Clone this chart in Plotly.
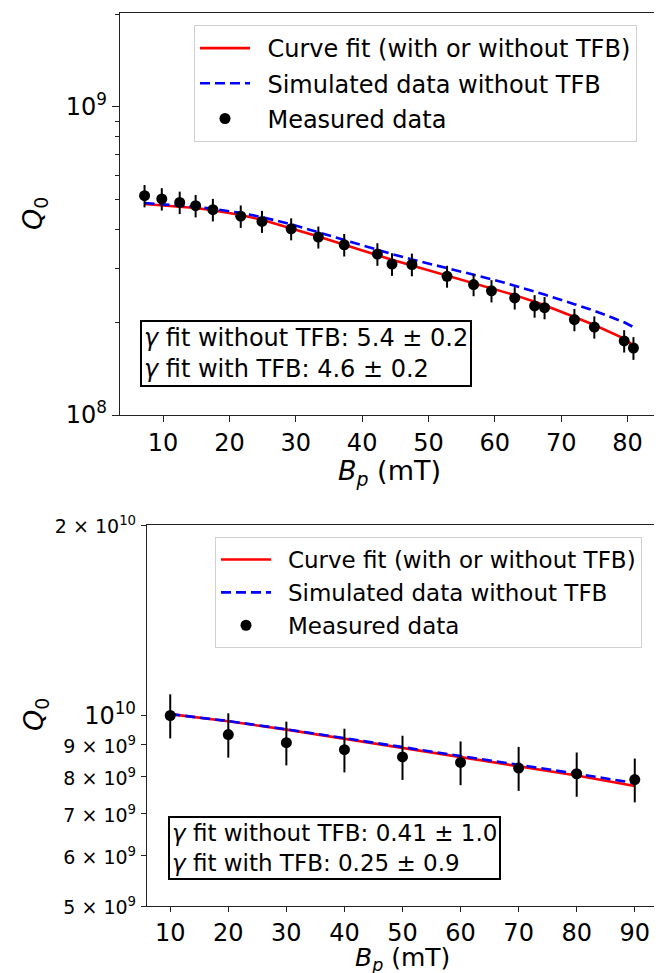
import math
import plotly.graph_objects as go

# ---------------- Top panel data ----------------
b_top = [7.2, 9.8, 12.5, 14.9, 17.5, 21.7, 24.9, 29.3, 33.4, 37.3, 42.3, 44.5,
         47.5, 52.8, 56.8, 59.5, 63.0, 66.0, 67.5, 72.0, 75.0, 79.5, 80.9]
q_top = [5.15e8, 5.03e8, 4.90e8, 4.78e8, 4.64e8, 4.42e8, 4.25e8, 4.02e8, 3.78e8,
         3.57e8, 3.33e8, 3.09e8, 3.08e8, 2.82e8, 2.65e8, 2.53e8, 2.40e8, 2.26e8,
         2.23e8, 2.04e8, 1.93e8, 1.74e8, 1.65e8]
err_top = [4.3e7, 4.2e7, 4.1e7, 4.0e7, 3.9e7, 3.7e7, 3.5e7, 3.3e7, 3.1e7, 3.0e7,
           2.8e7, 2.6e7, 2.6e7, 2.3e7, 2.2e7, 2.1e7, 2.0e7, 1.9e7, 1.85e7, 1.7e7,
           1.6e7, 1.45e7, 1.4e7]
fit_top = [4.84e8, 4.80e8, 4.75e8, 4.70e8, 4.62e8, 4.46e8, 4.30e8, 4.04e8, 3.80e8,
           3.57e8, 3.30e8, 3.19e8, 3.06e8, 2.84e8, 2.68e8, 2.58e8, 2.45e8, 2.33e8,
           2.27e8, 2.08e8, 1.96e8, 1.77e8, 1.68e8]
sim_top = [4.88e8, 4.84e8, 4.79e8, 4.74e8, 4.67e8, 4.53e8, 4.39e8, 4.16e8, 3.92e8,
           3.70e8, 3.44e8, 3.33e8, 3.20e8, 3.00e8, 2.85e8, 2.76e8, 2.63e8, 2.52e8,
           2.46e8, 2.29e8, 2.18e8, 2.00e8, 1.93e8]

# ---------------- Bottom panel data ----------------
b_bot = [10, 20, 30, 40, 50, 60, 70, 80, 90]
q_bot = [1.0e10, 9.33e9, 9.06e9, 8.83e9, 8.60e9, 8.43e9, 8.26e9, 8.09e9, 7.92e9]
err_bot = [8.0e8, 7.5e8, 7.2e8, 7.0e8, 6.9e8, 6.7e8, 6.6e8, 6.5e8, 6.3e8]
fit_bot = [1.005e10, 9.79e9, 9.50e9, 9.19e9, 8.88e9, 8.59e9, 8.31e9, 8.04e9, 7.74e9]
sim_bot = [1.005e10, 9.80e9, 9.51e9, 9.21e9, 8.91e9, 8.63e9, 8.36e9, 8.09e9, 7.82e9]

# tick labels
top_x_ticks = [10, 20, 30, 40, 50, 60, 70, 80]
top_y_ticks = [1e8, 1e9]
top_y_text = ["10<sup>8</sup>", "10<sup>9</sup>"]
top_y_minor = [2e8, 3e8, 4e8, 5e8, 6e8, 7e8, 8e8, 9e8, 2e9]
bot_x_ticks = [10, 20, 30, 40, 50, 60, 70, 80, 90]
bot_y_ticks = [5e9, 6e9, 7e9, 8e9, 9e9, 1e10, 2e10]
small = "<span style='font-size:19px'>%s</span>"
bot_y_text = [small % "5 × 10<sup>9</sup>", small % "6 × 10<sup>9</sup>",
              small % "7 × 10<sup>9</sup>", small % "8 × 10<sup>9</sup>",
              small % "9 × 10<sup>9</sup>", "10<sup>10</sup>",
              small % "2 × 10<sup>10</sup>"]

labels = ["Curve fit (with or without TFB)", "Simulated data without TFB", "Measured data"]
GAP = "\u00a0\u2009"

W, H = 662, 973
FONT = "DejaVu Sans"

fig = go.Figure()

def add_panel(xs, q, err, fit, sim, xa, ya, legend):
    fig.add_trace(go.Scatter(x=xs, y=fit, mode="lines", name=GAP + labels[0],
                             line=dict(color="#ff0000", width=2.6),
                             xaxis=xa, yaxis=ya, legend=legend, legendgroup=legend + "a"))
    fig.add_trace(go.Scatter(x=xs, y=sim, mode="lines", name=GAP + labels[1],
                             line=dict(color="#0000ff", width=2.6, dash="10px,5px"),
                             xaxis=xa, yaxis=ya, legend=legend, legendgroup=legend + "b"))
    fig.add_trace(go.Scatter(x=xs, y=q, mode="markers", name=GAP + labels[2],
                             marker=dict(color="black", size=11),
                             error_y=dict(type="data", array=err, color="black",
                                          thickness=2, width=0),
                             xaxis=xa, yaxis=ya, legend=legend, legendgroup=legend + "c"))

add_panel(b_top, q_top, err_top, fit_top, sim_top, "x", "y", "legend")
add_panel(b_bot, q_bot, err_bot, fit_bot, sim_bot, "x2", "y2", "legend2")

def px_x(p):
    return p / W

def px_y(p):
    return 1 - p / H

axis_common = dict(showline=True, mirror=True, linecolor="#222", linewidth=1.3,
                   ticks="outside", tickcolor="#222", tickwidth=1.3,
                   showgrid=False, zeroline=False, automargin=False,
                   tickfont=dict(family=FONT, size=24, color="black"))

fig.update_layout(
    width=W, height=H,
    margin=dict(l=0, r=0, t=0, b=0),
    paper_bgcolor="white", plot_bgcolor="white",
    font=dict(family=FONT, color="black"),
    xaxis=dict(domain=[px_x(112), px_x(650)], range=[3.5, 84.6],
               tickvals=top_x_ticks, ticklen=6, anchor="y", **axis_common),
    yaxis=dict(domain=[px_y(407), px_y(5)], type="log", range=[8, 9.305],
               tickvals=top_y_ticks, ticktext=top_y_text, ticklen=7, anchor="x",
               minor=dict(tickvals=top_y_minor, ticks="outside", ticklen=4,
                          tickcolor="#222", tickwidth=1.1),
               **axis_common),
    xaxis2=dict(domain=[px_x(139), px_x(650)], range=[6, 94],
                tickvals=bot_x_ticks, ticklen=5, anchor="y2", **axis_common),
    yaxis2=dict(domain=[px_y(898), px_y(517)], type="log",
                range=[math.log10(5e9), math.log10(2e10)],
                tickvals=bot_y_ticks, ticktext=bot_y_text, ticklen=5, anchor="x2",
                **axis_common),
    legend=dict(x=px_x(629), y=px_y(17), xanchor="right", yanchor="top",
                bgcolor="white", bordercolor="#d0d0d0", borderwidth=1,
                font=dict(family=FONT, size=24, color="black"),
                tracegroupgap=1, itemwidth=50),
    legend2=dict(x=px_x(634), y=px_y(529), xanchor="right", yanchor="top",
                 bgcolor="white", bordercolor="#d0d0d0", borderwidth=1,
                 font=dict(family=FONT, size=23, color="black"),
                 tracegroupgap=0, itemwidth=50),
    showlegend=True,
)

annos = [
    dict(text="<i>Q</i><sub>0</sub>", x=px_x(27), y=px_y(206), textangle=-90, size=27),
    dict(text="<i>Q</i><sub>0</sub>", x=px_x(27), y=px_y(707), textangle=-90, size=27),
    dict(text="<i>B</i><sub><i>p</i></sub> (mT)", x=px_x(381), y=px_y(464), size=27),
    dict(text="<i>B</i><sub><i>p</i></sub> (mT)", x=px_x(394), y=px_y(951), size=25),
]
for a in annos:
    sz = a.pop("size")
    fig.add_annotation(xref="paper", yref="paper", showarrow=False,
                       xanchor="center", yanchor="middle",
                       font=dict(family=FONT, size=sz, color="black"), **a)

box_common = dict(xref="paper", yref="paper", showarrow=False, align="left",
                  xanchor="left", yanchor="top", bgcolor="white",
                  bordercolor="black", borderwidth=2, borderpad=2)
fig.add_annotation(text="<i>γ</i> fit without TFB: 5.4 ± 0.2<br><i>γ</i> fit with TFB: 4.6 ± 0.2",
                   x=px_x(132), y=px_y(312),
                   font=dict(family=FONT, size=24, color="black"), **box_common)
fig.add_annotation(text="<i>γ</i> fit without TFB: 0.41 ± 1.0<br><i>γ</i> fit with TFB: 0.25 ± 0.9",
                   x=px_x(160), y=px_y(808),
                   font=dict(family=FONT, size=23, color="black"), **box_common)

fig.write_html("out.html")
